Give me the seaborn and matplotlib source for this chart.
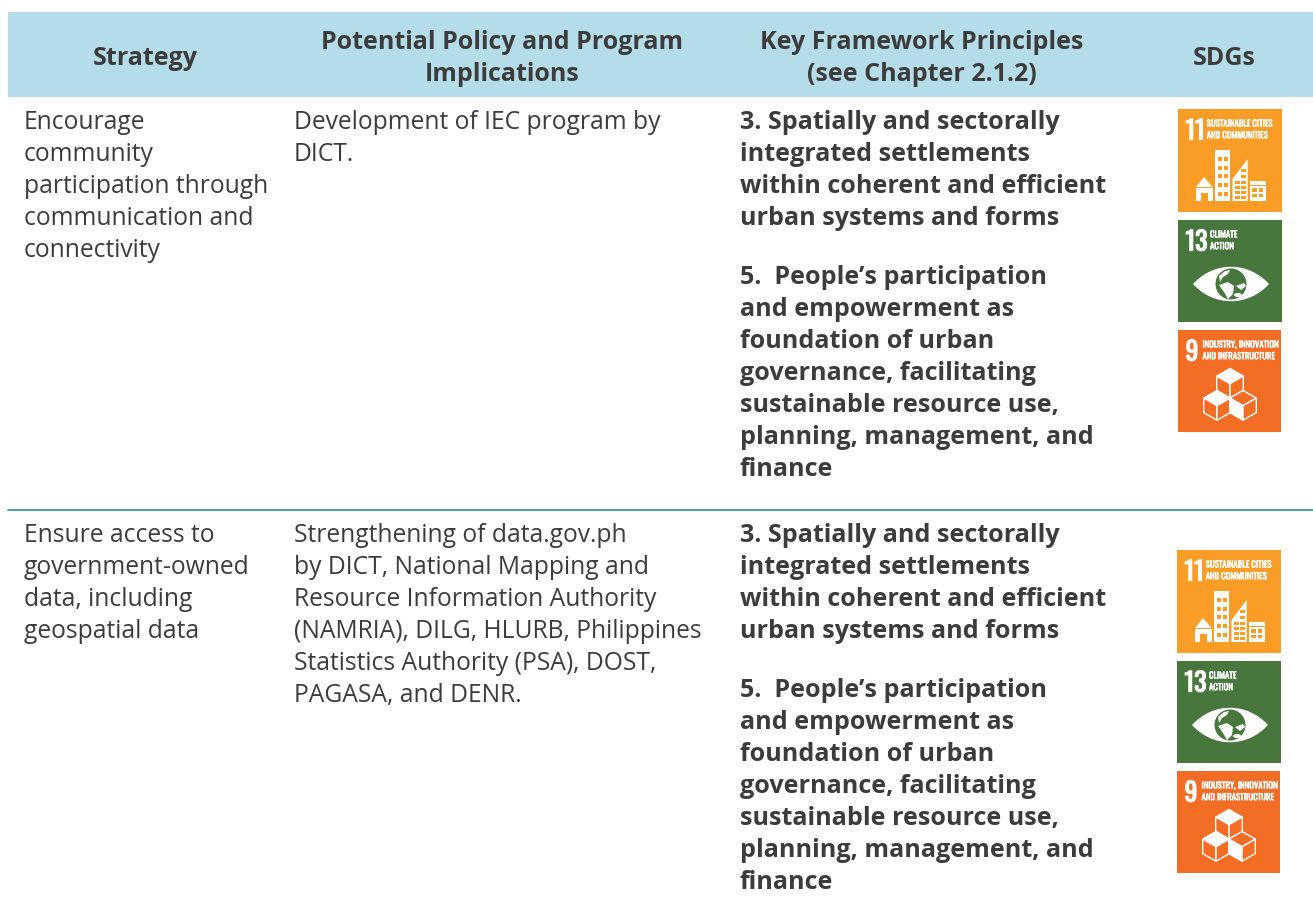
import matplotlib
matplotlib.use('Agg')
import matplotlib.pyplot as plt
import matplotlib.patheffects as pe
import seaborn as sns
from matplotlib.patches import Rectangle, Polygon, Circle, Ellipse, PathPatch
from matplotlib.path import Path

header_labels = [['Strategy'],
                 ['Potential Policy and Program', 'Implications'],
                 ['Key Framework Principles', '(see Chapter 2.1.2)'],
                 ['SDGs']]
header_x = [145, 502, 922, 1224]

strategy_1 = ['Encourage', 'community', 'participation through', 'communication and', 'connectivity']
strategy_2 = ['Ensure access to', 'government-owned', 'data, including', 'geospatial data']
policy_1 = ['Development of IEC program by', 'DICT.']
policy_2 = ['Strengthening of data.gov.ph', 'by DICT, National Mapping and', 'Resource Information Authority',
            '(NAMRIA), DILG, HLURB, Philippines', 'Statistics Authority (PSA), DOST,', 'PAGASA, and DENR.']
principle_3 = ['3. Spatially and sectorally', 'integrated settlements',
               'within coherent and efficient', 'urban systems and forms']
principle_5 = ['5.  People\u2019s participation', 'and empowerment as', 'foundation of urban',
               'governance, facilitating', 'sustainable resource use,', 'planning, management, and', 'finance']

tile_11 = ['SUSTAINABLE CITIES', 'AND COMMUNITIES']
tile_13 = ['CLIMATE', 'ACTION']
tile_9 = ['INDUSTRY, INNOVATION', 'AND INFRASTRUCTURE']

BAND = '#b5dde9'
TEXT = '#3c3c3c'
ORANGE = '#f99d26'
GREEN = '#48773e'
RED = '#f36d25'
RULE = '#2a9391'
TILE = 103
NARROW = ['Oswald', 'Roboto', 'DejaVu Sans']

sns.set_theme(style='white')
plt.rcParams['font.family'] = ['Open Sans', 'DejaVu Sans']

fig = plt.figure(figsize=(13.13, 9.14), dpi=100)
ax = fig.add_axes([0, 0, 1, 1])
ax.set_xlim(0, 1313)
ax.set_ylim(914, 0)
ax.axis('off')


def text_block(lines, x, y, bold=False):
    for i, line in enumerate(lines):
        ax.text(x, y + i * 32, line, fontsize=18.1 if bold else 17.7, color=TEXT, va='baseline',
                fontweight='bold' if bold else 'normal')


def tile_text(x, y, number, lines, lx, size=6.3):
    # stroke thickens the narrow face, it has only the one weight here
    num = ax.text(x + 7.5, y + 30.5, number, fontsize=18.5, color='white', family=NARROW, va='baseline')
    num.set_path_effects([pe.withStroke(linewidth=0.9, foreground='white')])
    for i, line in enumerate(lines):
        t = ax.text(x + lx, y + 17.5 + i * 11.7, line, fontsize=size, color='white', family=NARROW, va='baseline')
        t.set_path_effects([pe.withStroke(linewidth=0.35, foreground='white')])


def rect(x, y, w, h, c='white'):
    ax.add_patch(Rectangle((x, y), w, h, fc=c, ec='none'))


def tile_cities(x, y):
    rect(x, y, 104, TILE, ORANGE)
    tile_text(x, y, '11', tile_11, 28.7)
    # house
    ax.add_patch(Polygon([(x + 18, y + 78), (x + 26, y + 68), (x + 34.5, y + 78)], fc='white', ec='none'))
    rect(x + 18, y + 79, 16.5, 13)
    rect(x + 23, y + 84, 6.5, 8, ORANGE)
    # tall building
    rect(x + 36.5, y + 41, 15.5, 51)
    for r in range(5):
        for c in range(2):
            rect(x + 40 + c * 6, y + 48 + r * 8.7, 3.6, 3.8, ORANGE)
    # wedge building
    ax.add_patch(Polygon([(x + 54.5, y + 70), (x + 69.7, y + 50), (x + 69.7, y + 92), (x + 54.5, y + 92)],
                         fc='white', ec='none'))
    for r in range(4):
        rect(x + 57, y + 72 + r * 5, 4.5, 3, ORANGE)
        rect(x + 63, y + 72 + r * 5, 4.5, 3, ORANGE)
    rect(x + 63, y + 60, 4.5, 3, ORANGE)
    rect(x + 63, y + 66, 4.5, 3, ORANGE)
    # low building
    rect(x + 71.5, y + 71.5, 16, 20.5)
    rect(x + 71.5, y + 75.5, 16, 1.2, ORANGE)
    for r in range(2):
        for c in range(2):
            rect(x + 74 + c * 6.5, y + 79 + r * 5.5, 4.5, 3.5, ORANGE)


def tile_climate(x, y):
    rect(x, y, 104, TILE - 1, GREEN)
    tile_text(x, y, '13', tile_13, 32)
    cy = y + 64
    verts = [(x + 15, cy), (x + 36, y + 41), (x + 70, y + 41), (x + 91, cy),
             (x + 70, y + 87), (x + 36, y + 87), (x + 15, cy)]
    codes = [Path.MOVETO, Path.CURVE4, Path.CURVE4, Path.CURVE4, Path.CURVE4, Path.CURVE4, Path.CURVE4]
    ax.add_patch(PathPatch(Path(verts, codes), fc='white', ec='none'))
    ax.add_patch(Circle((x + 53, cy), 15.5, fc=GREEN, ec='none'))
    # rough land masses on the globe
    ax.add_patch(Polygon([(x + 41, y + 56), (x + 47, y + 51), (x + 52, y + 50), (x + 50, y + 54), (x + 45, y + 57),
                          (x + 42, y + 62)], fc='white', ec='none'))
    ax.add_patch(Polygon([(x + 41, y + 65), (x + 50, y + 62), (x + 56, y + 66), (x + 55, y + 74), (x + 50, y + 79),
                          (x + 46, y + 72)], fc='white', ec='none'))
    ax.add_patch(Polygon([(x + 58, y + 66), (x + 66, y + 63), (x + 68, y + 66), (x + 63, y + 70)],
                         fc='white', ec='none'))
    ax.add_patch(Ellipse((x + 60, y + 75), 8, 4, fc='white', ec='none'))


def cube(x, y, w=13.3, q=7.6, v=14.5, filled=None):
    # x, y is the top corner of the cube
    top = (x, y)
    left = (x - w, y + q)
    right = (x + w, y + q)
    mid = (x, y + 2 * q)
    lb = (x - w, y + q + v)
    rb = (x + w, y + q + v)
    bot = (x, y + 2 * q + v)
    faces = {'top': [top, right, mid, left], 'left': [left, mid, bot, lb], 'right': [mid, right, rb, bot]}
    for name, pts in faces.items():
        ax.add_patch(Polygon(pts, closed=True, fc='white' if name == filled else RED, ec='white', lw=1.0))


def tile_industry(x, y):
    rect(x, y, 103, TILE - 1, RED)
    tile_text(x, y, '9', tile_9, 24.5)
    cube(x + 52, y + 38.5, filled='top')
    cube(x + 39, y + 60.5, filled='top')
    cube(x + 65, y + 60.5, filled='left')


# header band
rect(8, 12, 1305, 85, BAND)
for lines, hx in zip(header_labels, header_x):
    if len(lines) == 1:
        ax.text(hx, 65, lines[0], fontsize=18, fontweight='bold', color=TEXT, ha='center', va='baseline')
    else:
        for i, line in enumerate(lines):
            ax.text(hx, 49 + i * 32, line, fontsize=18, fontweight='bold', color=TEXT, ha='center', va='baseline')

# divider between the rows
ax.plot([8, 1313], [509.5, 509.5], color=RULE, lw=1.2)

# first row
text_block(strategy_1, 24, 129)
text_block(policy_1, 294, 129)
text_block(principle_3, 740, 129, bold=True)
text_block(principle_5, 740, 284, bold=True)
tile_cities(1178, 109)
tile_climate(1178, 220)
tile_industry(1178, 330)

# second row
text_block(strategy_2, 24, 542)
text_block(policy_2, 294, 542)
text_block(principle_3, 740, 542, bold=True)
text_block(principle_5, 740, 697, bold=True)
tile_cities(1177, 550)
tile_climate(1177, 661)
tile_industry(1177, 771)

fig.savefig('out.png', dpi=100)
